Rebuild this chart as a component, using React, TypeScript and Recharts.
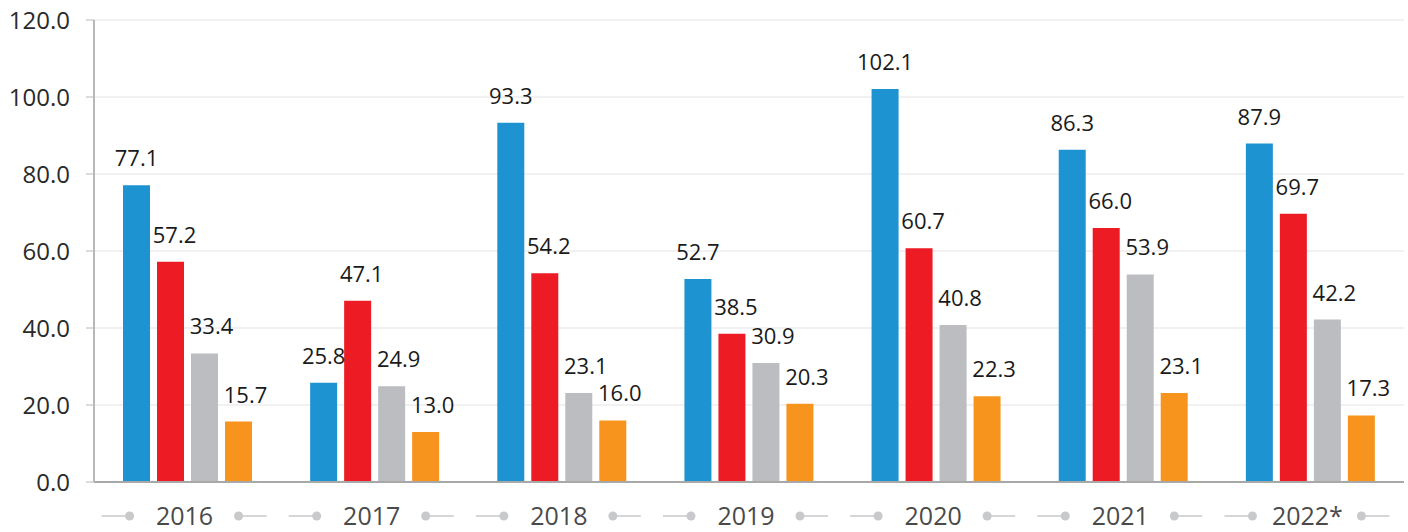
import { BarChart, Bar, XAxis, YAxis, CartesianGrid, LabelList } from "recharts";

const years = ["2016", "2017", "2018", "2019", "2020", "2021", "2022*"];
const blueVals = [77.1, 25.8, 93.3, 52.7, 102.1, 86.3, 87.9];
const redVals = [57.2, 47.1, 54.2, 38.5, 60.7, 66.0, 69.7];
const greyVals = [33.4, 24.9, 23.1, 30.9, 40.8, 53.9, 42.2];
const orangeVals = [15.7, 13.0, 16.0, 20.3, 22.3, 23.1, 17.3];
const yTicks = [0, 20, 40, 60, 80, 100, 120];

const data = years.map((y, i) => ({
  year: y,
  a: blueVals[i],
  b: redVals[i],
  c: greyVals[i],
  d: orangeVals[i],
}));

const FONT = "'Open Sans', sans-serif";
const fmt = (v: number) => Number(v).toFixed(1);

/* year label with the little dot-and-line ornaments either side */
function YearTick(props: any) {
  const { x, y, payload } = props;
  const cx = x - 3;
  const ty = y + 26;
  const deco = "#c8c9cb";
  return (
    <g>
      <line x1={cx - 83} y1={ty} x2={cx - 55} y2={ty} stroke={deco} strokeWidth={1.5} />
      <circle cx={cx - 55} cy={ty} r={4.5} fill={deco} />
      <circle cx={cx + 54} cy={ty} r={4.5} fill={deco} />
      <line x1={cx + 54} y1={ty} x2={cx + 82} y2={ty} stroke={deco} strokeWidth={1.5} />
      <text
        x={cx}
        y={ty + 9}
        textAnchor="middle"
        fontSize={25}
        fill="#4a4a4a"
        fontFamily={FONT}
      >
        {payload.value}
      </text>
    </g>
  );
}

// value labels sit a touch to the right for the later bars in each group
const makeLabel = (dx: number) => ({
  position: "top" as const,
  offset: 19,
  dx,
  formatter: (v: any) => fmt(v),
  style: { fontSize: 22, fill: "#1a1a1a", fontFamily: FONT },
});

export default function App() {
  return (
    <div style={{ position: "absolute", left: 0, top: 0, background: "#fff" }}>
      <BarChart
        width={1408}
        height={532}
        data={data}
        margin={{ top: 20, right: 4, bottom: 0, left: 0 }}
        barSize={27}
        barGap={7}
      >
        <CartesianGrid vertical={false} stroke="#e3e3e3" strokeWidth={1} />
        <XAxis
          dataKey="year"
          height={50}
          axisLine={{ stroke: "#a8a8a8", strokeWidth: 2 }}
          tickLine={false}
          tick={<YearTick />}
          interval={0}
        />
        <YAxis
          width={94}
          domain={[0, 120]}
          ticks={yTicks}
          tickFormatter={fmt}
          axisLine={{ stroke: "#b8b8b8", strokeWidth: 2 }}
          tickLine={{ stroke: "#b8b8b8" }}
          tickSize={8}
          tickMargin={16}
          tick={{ fontSize: 24, fill: "#2a2a2a", fontFamily: FONT }}
        />
        <Bar dataKey="a" fill="#1e93d2" isAnimationActive={false}>
          <LabelList dataKey="a" {...makeLabel(0)} />
        </Bar>
        <Bar dataKey="b" fill="#ed1c24" isAnimationActive={false}>
          <LabelList dataKey="b" {...makeLabel(4)} />
        </Bar>
        <Bar dataKey="c" fill="#bcbdc0" isAnimationActive={false}>
          <LabelList dataKey="c" {...makeLabel(7)} />
        </Bar>
        <Bar dataKey="d" fill="#f7941d" isAnimationActive={false}>
          <LabelList dataKey="d" {...makeLabel(7)} />
        </Bar>
      </BarChart>
    </div>
  );
}
